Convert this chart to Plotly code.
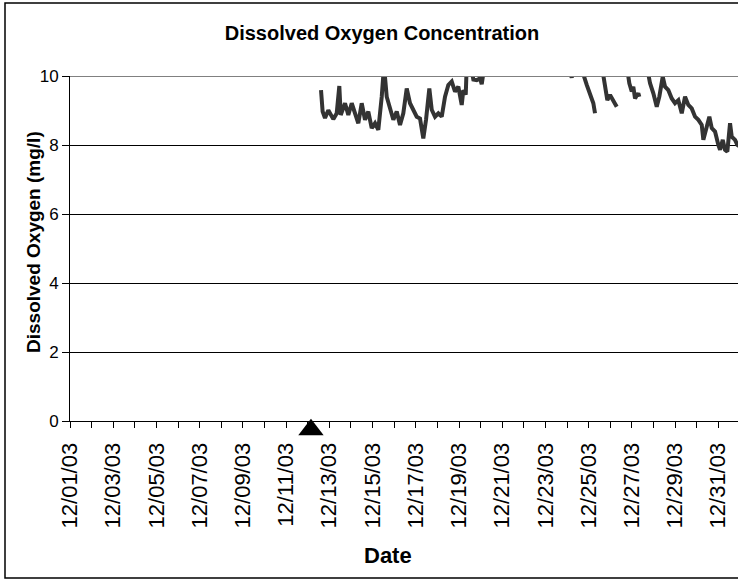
import plotly.graph_objects as go

# ---- data ----
times = [
    "2003-12-12 14:45", "2003-12-12 16:34", "2003-12-12 19:12", "2003-12-12 22:52",
    "2003-12-13 04:25", "2003-12-13 08:12", "2003-12-13 11:05", "2003-12-13 12:38",
    "2003-12-13 17:25", "2003-12-13 21:05", "2003-12-14 00:52", "2003-12-14 04:31",
    "2003-12-14 08:11", "2003-12-14 11:57", "2003-12-14 15:37", "2003-12-14 19:17",
    "2003-12-14 23:04", "2003-12-15 02:44", "2003-12-15 06:24", "2003-12-15 10:11",
    "2003-12-15 12:43", "2003-12-15 15:43", "2003-12-15 19:23", "2003-12-15 23:04",
    "2003-12-16 02:50", "2003-12-16 06:30", "2003-12-16 10:09", "2003-12-16 13:56",
    "2003-12-16 17:35", "2003-12-16 21:16", "2003-12-17 01:02", "2003-12-17 04:42",
    "2003-12-17 08:22", "2003-12-17 11:22", "2003-12-17 15:03", "2003-12-17 17:43",
    "2003-12-17 21:22", "2003-12-18 01:02", "2003-12-18 04:49", "2003-12-18 08:28",
    "2003-12-18 12:09", "2003-12-18 15:55", "2003-12-18 19:35", "2003-12-18 23:15",
    "2003-12-19 03:01", "2003-12-19 04:48", "2003-12-19 07:28", "2003-12-19 08:34",
    "2003-12-19 12:15", "2003-12-19 15:55", "2003-12-19 19:41", "2003-12-19 23:21",
    "2003-12-20 01:14", "2003-12-20 04:15",
    "2003-12-22 00:00",
    "2003-12-23 22:00", "2003-12-24 05:11", "2003-12-24 08:52", "2003-12-24 12:00",
    "2003-12-24 17:00",
    "2003-12-24 18:05", "2003-12-24 21:51", "2003-12-25 00:45", "2003-12-25 03:24",
    "2003-12-25 05:11", "2003-12-25 07:03",
    "2003-12-25 10:00",
    "2003-12-25 14:31", "2003-12-25 18:10", "2003-12-25 20:44", "2003-12-25 23:44",
    "2003-12-26 03:23", "2003-12-26 07:10",
    "2003-12-26 12:00",
    "2003-12-26 18:16", "2003-12-26 21:09", "2003-12-26 23:49", "2003-12-27 01:35",
    "2003-12-27 03:29", "2003-12-27 07:09", "2003-12-27 08:15",
    "2003-12-27 12:00",
    "2003-12-27 16:29", "2003-12-27 20:09", "2003-12-27 23:49", "2003-12-28 03:36",
    "2003-12-28 06:29", "2003-12-28 10:15", "2003-12-28 12:49", "2003-12-28 16:29",
    "2003-12-28 20:15", "2003-12-28 23:55", "2003-12-29 03:35", "2003-12-29 07:22",
    "2003-12-29 11:01", "2003-12-29 14:41", "2003-12-29 18:27", "2003-12-29 22:08",
    "2003-12-30 01:48", "2003-12-30 05:34", "2003-12-30 07:21", "2003-12-30 11:07",
    "2003-12-30 14:01", "2003-12-30 16:41", "2003-12-30 20:20", "2003-12-31 00:00",
    "2003-12-31 01:54", "2003-12-31 04:54", "2003-12-31 07:26", "2003-12-31 10:00",
    "2003-12-31 13:00", "2003-12-31 14:53", "2003-12-31 18:33", "2003-12-31 21:06",
    "2004-01-01 00:00",
]
do_mg_l = [
    9.59, 8.97, 8.78, 9.01,
    8.75, 8.92, 9.71, 8.87,
    9.21, 8.87, 9.21, 8.92,
    8.63, 9.21, 8.73, 8.97,
    8.49, 8.63, 8.44, 9.40,
    10.3, 9.40, 9.02, 8.73,
    8.97, 8.58, 8.92, 9.64,
    9.21, 9.02, 8.82, 8.77,
    8.19, 8.73, 9.64, 9.02,
    8.82, 8.92, 8.82, 9.40,
    9.74, 9.84, 9.55, 9.69,
    9.16, 9.59, 9.46, 10.3,
    10.4, 9.90, 9.88, 9.93,
    9.76, 10.3,
    None,
    10.3, 9.96, 10.3, None,
    10.3,
    10.05, 9.74, 9.55, 9.40,
    9.21, 8.92,
    None,
    10.3, 9.64, 9.30, 9.45,
    9.30, 9.11,
    None,
    10.3, 9.79, 9.55, 9.69,
    9.35, 9.50, 9.40,
    None,
    10.3, 9.79, 9.50, 9.11,
    9.40, 9.98, 9.69, 9.59,
    9.35, 9.21, 9.30, 8.92,
    9.40, 9.16, 9.06, 8.82,
    8.73, 8.58, 8.15, 8.53,
    8.82, 8.49, 8.39, 8.00,
    7.86, 8.15, 7.86, 7.81,
    8.63, 8.24, 8.15, 8.00,
    7.95,
]

event_time = ["2003-12-12 03:36"]
event_level = [-0.25]

y_ticks = [0, 2, 4, 6, 8, 10]
y_max = 10

# ---- layout geometry (pixels) ----
W, H = 738, 582
L, R, T, B = 70, 0, 76, 121          # paper plot region: x 70..738, y 76..461
AX_BOTTOM_PX = 421                   # where y = 0 sits
region_h = H - T - B
dom0 = (H - B - AX_BOTTOM_PX) / region_h
y2_low = y_max - y_max / (1 - dom0)  # same scale as main axis, extended below


def px_x(px):
    return (px - L) / (W - L - R)


def px_y(py):
    return (H - B - py) / region_h


fig = go.Figure()
fig.add_trace(go.Scatter(
    x=times, y=do_mg_l, mode="lines",
    line=dict(color="#333333", width=4),
    connectgaps=False, showlegend=False, hoverinfo="skip",
))
fig.add_trace(go.Scatter(
    x=event_time, y=event_level, mode="markers", yaxis="y2",
    marker=dict(symbol="triangle-up", size=22, color="black"),
    showlegend=False, hoverinfo="skip",
))

fig.update_layout(
    width=W, height=H,
    margin=dict(l=L, r=R, t=T, b=B),
    paper_bgcolor="white", plot_bgcolor="rgba(0,0,0,0)",
    font=dict(family="Liberation Sans, Arial, sans-serif", color="black"),
    showlegend=False,
    xaxis=dict(
        type="date",
        range=["2003-12-01 00:00", "2003-12-31 21:50"],
        tick0="2003-12-01", dtick=2 * 86400000,
        tickformat="%m/%d/%y", tickangle=-90,
        tickfont=dict(size=22, color="black"),
        ticks="outside", ticklen=6, tickcolor="black", tickwidth=1,
        ticklabelstandoff=6,
        minor=dict(dtick=86400000, tick0="2003-12-01", ticks="outside",
                   ticklen=6, tickcolor="black", tickwidth=1, showgrid=False),
        showline=True, linecolor="black", linewidth=1,
        showgrid=False, zeroline=False, anchor="y",
    ),
    yaxis=dict(
        domain=[dom0, 1],
        range=[0, y_max], tickvals=y_ticks,
        tickfont=dict(size=17, color="black"),
        ticks="outside", ticklen=7, tickcolor="black", tickwidth=1,
        showline=True, linecolor="black", linewidth=1,
        showgrid=True, gridcolor="black", gridwidth=1,
        zeroline=False,
    ),
    yaxis2=dict(
        domain=[0, 1], range=[y2_low, y_max], anchor="x",
        visible=False, showgrid=False, zeroline=False,
    ),
    title=dict(text="<b>Dissolved Oxygen Concentration</b>",
               x=382 / W, xanchor="center",
               y=1 - 33 / H, yanchor="middle",
               font=dict(size=20, color="black")),
    annotations=[
        dict(text="<b>Dissolved Oxygen (mg/l)</b>", xref="paper", yref="paper",
             x=px_x(33), y=px_y(242), textangle=-90, showarrow=False,
             xanchor="center", yanchor="middle",
             font=dict(size=19, color="black")),
        dict(text="<b>Date</b>", xref="paper", yref="paper",
             x=px_x(388), y=px_y(555), showarrow=False,
             xanchor="center", yanchor="middle",
             font=dict(size=22, color="black")),
    ],
    shapes=[
        dict(type="line", xref="paper", yref="y", x0=0, x1=1, y0=10, y1=10,
             line=dict(color="#808080", width=2)),
        dict(type="rect", xref="paper", yref="paper",
             x0=px_x(5), x1=px_x(745), y0=px_y(578), y1=px_y(3),
             line=dict(color="black", width=1.5), layer="above"),
    ],
)

fig.write_html(
    "out.html",
    config={"displayModeBar": False},
    post_script="document.body.style.margin='0';document.body.style.overflow='hidden';",
)
